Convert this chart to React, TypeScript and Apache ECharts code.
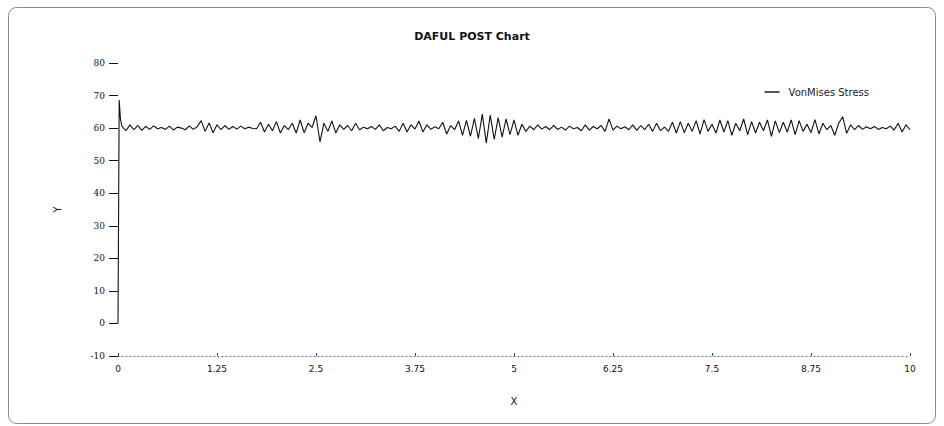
import React, { useEffect, useRef } from "react";
import * as echarts from "echarts";

const TITLE = "DAFUL POST Chart";
const SERIES_NAME = "VonMises Stress";
const X_MIN = 0;
const X_MAX = 10;
const X_INTERVAL = 1.25;
const Y_MIN = -10;
const Y_MAX = 80;
const Y_INTERVAL = 10;

// start-up spike
const startX = [0, 0.015, 0.03, 0.05];
const startY = [0, 68.6, 63, 60.5];

// steady part: samples every 0.05 from x = 0.10 to 10.00
const steadyStartX = 0.1;
const steadyStep = 0.05;
const steadyY = [
  59.2, 61, 59.5, 60.8, 59.3, 60.5, 59.6, 60.7, 59.8, 60.2,
  59.6, 60.6, 59.4, 60.3, 60, 59.5, 60.7, 59.6, 60.4, 62.3,
  59, 61.6, 58.6, 61, 59.5, 60.8, 59.6, 60.5, 59.7, 60.6,
  59.8, 60.3, 59.9, 59.8, 61.8, 58.8, 61.2, 59.2, 62, 58.5,
  60.8, 59.5, 61.5, 58.5, 62.5, 58.6, 61.5, 60.2, 63.8, 55.8,
  61.5, 59, 62.2, 58.5, 61, 59.6, 60.8, 59.2, 61.5, 59.5,
  60.3, 59.8, 60.5, 59.6, 61, 59.2, 60.2, 59.8, 60.6, 59,
  61.5, 58.8, 61, 59.7, 62.2, 58.8, 61, 59.6, 60.4, 59.8,
  61.8, 58.2, 60.8, 59.5, 62.2, 57.8, 62.4, 57.5, 63, 56.8,
  64.3, 55.4, 64, 56.5, 63.2, 57.2, 62.8, 58, 62.5, 57.8,
  61.2, 59, 60.6, 59.5, 61, 59.7, 60.5, 59.5, 60.8, 59.6,
  60.3, 59.4, 60.6, 59.8, 60.2, 59.2, 61, 59.4, 60.5, 59.8,
  60.8, 59, 62.8, 59.4, 60.6, 59.8, 60.4, 59.5, 61, 59.3,
  60.8, 59.5, 61.2, 59, 61.5, 59.2, 60.3, 59, 61.8, 58.5,
  62, 58.6, 61.5, 59, 62.3, 58.2, 62.6, 59, 61.2, 58.5,
  62.5, 58.8, 62.3, 57.8, 61.5, 59.2, 62.8, 58, 62, 58.5,
  61.8, 59.2, 62.5, 57.5, 62.2, 58.6, 61.8, 58.8, 62.5, 58,
  62.3, 59, 61.2, 58.6, 62.6, 58.2, 61.5, 59.5, 60.8, 57.8,
  61.5, 63.5, 58.4, 61, 59.5, 60.8, 59.6, 60.4, 59.8, 60.5,
  59.6, 60.2, 59.8, 60.6, 59.4, 61.5, 58.8, 61, 59.5,
];

export default function App() {
  const ref = useRef<HTMLDivElement>(null);

  useEffect(() => {
    if (!ref.current) return;
    const chart = echarts.init(ref.current, null, { renderer: "svg" });

    const points: number[][] = [];
    startX.forEach((x, i) => points.push([x, startY[i]]));
    steadyY.forEach((y, i) => {
      const x = Math.round((steadyStartX + i * steadyStep) * 1000) / 1000;
      points.push([x, y]);
    });

    chart.setOption({
      animation: false,
      backgroundColor: "#ffffff",
      title: {
        text: TITLE,
        left: "center",
        top: 26,
        textStyle: {
          fontFamily: "DejaVu Sans",
          fontSize: 11,
          fontWeight: "bold",
          color: "#111",
        },
      },
      legend: {
        data: [{ name: SERIES_NAME, icon: "rect" }],
        right: 70,
        top: 82,
        itemWidth: 15,
        itemHeight: 2,
        itemGap: 6,
        itemStyle: { color: "#555" },
        textStyle: { fontFamily: "DejaVu Sans", fontSize: 10, color: "#222", padding: [0, 0, 0, 4] },
      },
      graphic: [
        {
          type: "rect",
          shape: { x: 8.5, y: 7.5, width: 927, height: 416, r: 8 },
          style: { fill: "none", stroke: "#8a8a8a", lineWidth: 1 },
          silent: true,
          z: -1,
        },
      ],
      grid: { left: 118, right: 34, top: 63, bottom: 70 },
      xAxis: {
        type: "value",
        min: X_MIN,
        max: X_MAX,
        interval: X_INTERVAL,
        name: "X",
        nameLocation: "middle",
        nameGap: 40,
        nameTextStyle: { fontFamily: "DejaVu Sans", fontSize: 10, color: "#111" },
        axisLine: {
          show: true,
          onZero: false,
          lineStyle: { color: "#666", type: [1, 3], width: 1 },
        },
        axisTick: {
          show: true,
          inside: true,
          length: 3,
          lineStyle: { color: "#444" },
        },
        axisLabel: {
          margin: 8,
          fontFamily: "DejaVu Sans",
          fontSize: 9,
          color: "#111",
        },
        splitLine: { show: false },
      },
      yAxis: {
        type: "value",
        min: Y_MIN,
        max: Y_MAX,
        interval: Y_INTERVAL,
        name: "Y",
        nameLocation: "middle",
        nameGap: 56,
        nameTextStyle: { fontFamily: "DejaVu Sans", fontSize: 10, color: "#111" },
        axisLine: { show: false },
        axisTick: {
          show: true,
          length: 9,
          lineStyle: { color: "#111" },
        },
        axisLabel: {
          margin: 13,
          fontFamily: "DejaVu Serif",
          fontSize: 9,
          color: "#111",
        },
        splitLine: { show: false },
      },
      series: [
        {
          name: SERIES_NAME,
          type: "line",
          data: points,
          symbol: "none",
          color: "#111",
          lineStyle: { color: "#111", width: 1.1 },
        },
      ],
    });

    return () => chart.dispose();
  }, []);

  return (
    <div
      ref={ref}
      style={{ position: "absolute", left: 0, top: 0, width: 944, height: 426 }}
    />
  );
}
